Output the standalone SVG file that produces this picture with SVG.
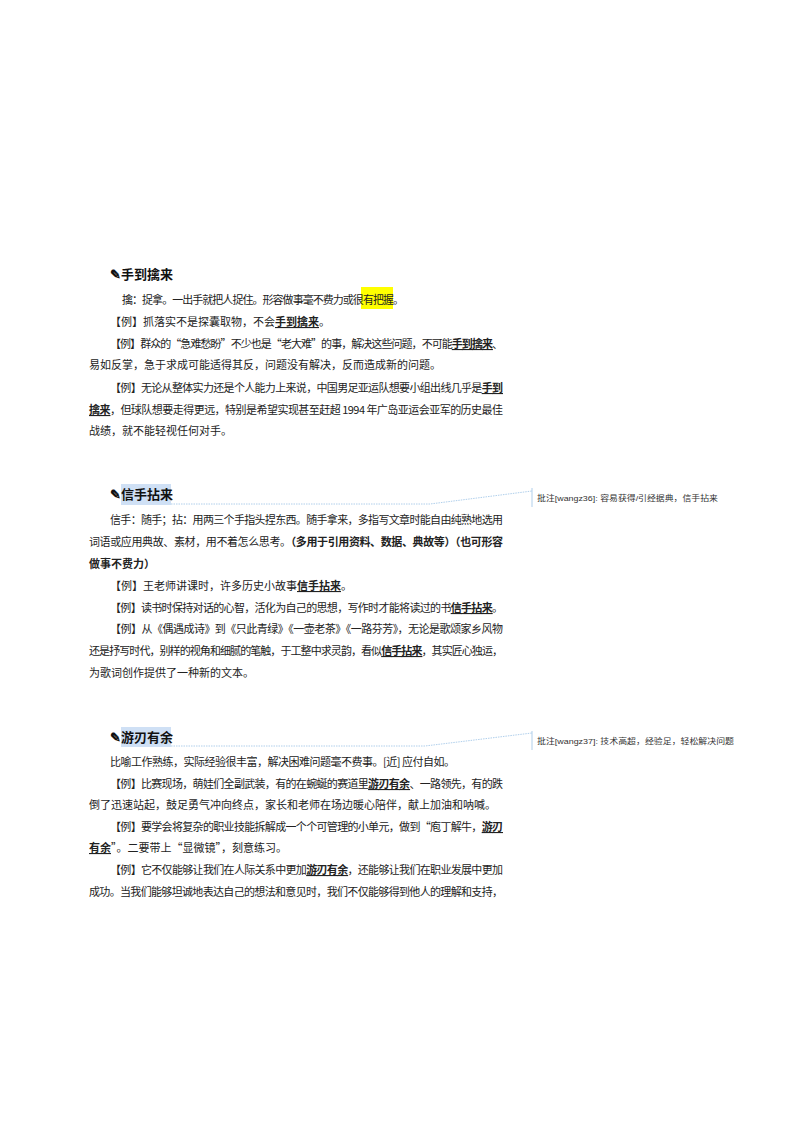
<svg xmlns="http://www.w3.org/2000/svg" width="800" height="1132" viewBox="0 0 800 1132">
<style>
text{font-family:"Noto Sans CJK SC","Liberation Sans",sans-serif;fill:#222}
.h{font-size:13px;font-weight:bold;fill:#111}
.b{font-size:11px}
.k{font-weight:bold;text-decoration:underline}
.c{font-size:8px;fill:#333;font-family:"Liberation Sans","Noto Sans CJK SC",sans-serif}
.ln{stroke:#9cc3e6;stroke-width:0.8;fill:none}
</style>
<rect width="800" height="1132" fill="#fff"/>
<g id="section1">
<text class="h" x="110" y="279">✎手到擒来</text>
<rect x="361" y="287" width="32" height="22" fill="#ffff00"/>
<text class="b" x="122" y="304" textLength="282" lengthAdjust="spacing">擒：捉拿。一出手就把人捉住。形容做事毫不费力或很有把握。</text>
<text class="b" x="110" y="326">【例】抓落实不是探囊取物，不会<tspan class="k">手到擒来</tspan>。</text>
<text class="b" x="110" y="348" textLength="393" lengthAdjust="spacing">【例】群众的“急难愁盼”不少也是“老大难”的事，解决这些问题，不可能<tspan class="k">手到擒来</tspan>、</text>
<text class="b" x="89" y="369">易如反掌，急于求成可能适得其反，问题没有解决，反而造成新的问题。</text>
<text class="b" x="110" y="392" textLength="393" lengthAdjust="spacing">【例】无论从整体实力还是个人能力上来说，中国男足亚运队想要小组出线几乎是<tspan class="k">手到</tspan></text>
<text class="b" x="89" y="414" textLength="414" lengthAdjust="spacing"><tspan class="k">擒来</tspan>，但球队想要走得更远，特别是希望实现甚至赶超 1994 年广岛亚运会亚军的历史最佳</text>
<text class="b" x="89" y="435">战绩，就不能轻视任何对手。</text>
</g>
<g id="section2">
<rect x="121" y="484" width="50" height="21" fill="#cfe0f5"/>
<text class="h" x="110" y="499">✎信手拈来</text>
<text class="b" x="110" y="524" textLength="393" lengthAdjust="spacing">信手：随手；拈：用两三个手指头捏东西。随手拿来，多指写文章时能自由纯熟地选用</text>
<text class="b" x="89" y="546" textLength="414" lengthAdjust="spacing">词语或应用典故、素材，用不着怎么思考。<tspan font-weight="bold">（多用于引用资料、数据、典故等）（也可形容</tspan></text>
<text class="b" x="89" y="568" font-weight="bold">做事不费力）</text>
<text class="b" x="110" y="590">【例】王老师讲课时，许多历史小故事<tspan class="k">信手拈来</tspan>。</text>
<text class="b" x="110" y="612" textLength="393" lengthAdjust="spacing">【例】读书时保持对话的心智，活化为自己的思想，写作时才能将读过的书<tspan class="k">信手拈来</tspan>。</text>
<text class="b" x="110" y="633" textLength="393" lengthAdjust="spacing">【例】从《偶遇成诗》到《只此青绿》《一壶老茶》《一路芬芳》，无论是歌颂家乡风物</text>
<text class="b" x="89" y="655" textLength="414" lengthAdjust="spacing">还是抒写时代，别样的视角和细腻的笔触，于工整中求灵韵，看似<tspan class="k">信手拈来</tspan>，其实匠心独运，</text>
<text class="b" x="89" y="677">为歌词创作提供了一种新的文本。</text>
</g>
<g id="section3">
<rect x="121" y="727" width="50" height="20" fill="#cfe0f5"/>
<text class="h" x="110" y="742">✎游刃有余</text>
<text class="b" x="110" y="766" textLength="345" lengthAdjust="spacing">比喻工作熟练，实际经验很丰富，解决困难问题毫不费事。[近] 应付自如。</text>
<text class="b" x="110" y="788" textLength="393" lengthAdjust="spacing">【例】比赛现场，萌娃们全副武装，有的在蜿蜒的赛道里<tspan class="k">游刃有余</tspan>、一路领先，有的跌</text>
<text class="b" x="89" y="809">倒了迅速站起，鼓足勇气冲向终点，家长和老师在场边暖心陪伴，献上加油和呐喊。</text>
<text class="b" x="110" y="831" textLength="393" lengthAdjust="spacing">【例】要学会将复杂的职业技能拆解成一个个可管理的小单元，做到“庖丁解牛，<tspan class="k">游刃</tspan></text>
<text class="b" x="89" y="852"><tspan class="k">有余</tspan>”。二要带上“显微镜”，刻意练习。</text>
<text class="b" x="110" y="874" textLength="393" lengthAdjust="spacing">【例】它不仅能够让我们在人际关系中更加<tspan class="k">游刃有余</tspan>，还能够让我们在职业发展中更加</text>
<text class="b" x="89" y="896" textLength="414" lengthAdjust="spacing">成功。当我们能够坦诚地表达自己的想法和意见时，我们不仅能够得到他人的理解和支持，</text>
</g>
<g id="connectors">
<polyline class="ln" stroke-dasharray="1.5,1" points="171,504 430,504 532,491"/>
<line class="ln" x1="532" y1="488" x2="532" y2="507"/>
<polyline class="ln" stroke-dasharray="1.5,1" points="171,746 425,746 532,733"/>
<line class="ln" x1="532" y1="731" x2="532" y2="750"/>
</g>
<g id="comments">
<text class="c" x="537" y="501" textLength="181" lengthAdjust="spacingAndGlyphs">批注[wangz36]:  容易获得/引经据典，信手拈来</text>
<text class="c" x="537" y="744" textLength="197" lengthAdjust="spacingAndGlyphs">批注[wangz37]:  技术高超，经验足，轻松解决问题</text>
</g>
</svg>
